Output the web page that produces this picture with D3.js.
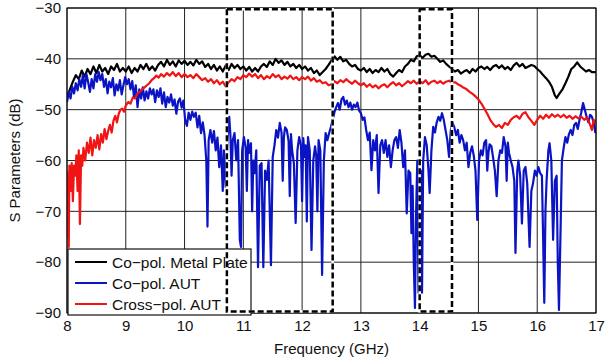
<!DOCTYPE html>
<html>
<head>
<meta charset="utf-8">
<script src="https://cdn.jsdelivr.net/npm/d3@7"></script>
<style>
  body { margin: 0; background: #fff; }
  svg { display: block; font-family: "Liberation Sans", Arial, sans-serif; }
</style>
</head>
<body>
<svg id="chart" width="606" height="364"></svg>
<script>
// axis ticks
const xTicks = [8, 9, 10, 11, 12, 13, 14, 15, 16, 17]
const yTicks = [-90, -80, -70, -60, -50, -40, -30]

// highlighted bands (GHz)
const bands = [[10.72, 12.52], [14.0, 14.55]]

// [frequency GHz, dB]
const coPolMetal = [
  [8.00,-47.5],[8.05,-46],[8.10,-44.5],[8.15,-43.2],[8.20,-44],[8.25,-42.3],[8.30,-43.5],[8.35,-42],[8.40,-43],[8.45,-41.5],
  [8.50,-42.8],[8.55,-41.2],[8.60,-42.5],[8.65,-41.8],[8.70,-43],[8.75,-41.5],[8.80,-42.2],[8.85,-41],[8.90,-42.5],[8.95,-41.8],
  [9.00,-42.5],[9.05,-41.5],[9.10,-42.8],[9.15,-41.8],[9.20,-42.5],[9.25,-41.2],[9.30,-42],[9.35,-41],[9.40,-42.2],[9.45,-41.5],
  [9.50,-42.3],[9.55,-41.2],[9.60,-40.6],[9.65,-41.5],[9.70,-40.2],[9.75,-41.2],[9.80,-40.5],[9.85,-41.5],[9.90,-40.3],[9.95,-41.0],
  [10.00,-40.4],[10.05,-41.2],[10.10,-40.6],[10.15,-41.3],[10.20,-40.2],[10.25,-41],[10.30,-40.5],[10.35,-41.6],[10.40,-41],[10.45,-42],
  [10.50,-41.2],[10.55,-42.3],[10.60,-41.5],[10.65,-42.5],[10.70,-41.3],[10.75,-42.2],[10.80,-41],[10.85,-41.8],[10.90,-41.2],[10.95,-42.0],
  [11.00,-41.5],[11.05,-42.3],[11.10,-41.6],[11.15,-42.5],[11.20,-41.8],[11.25,-42.5],[11.30,-41.5],[11.35,-41.0],[11.40,-41.6],[11.45,-40.5],
  [11.50,-41.2],[11.55,-40.0],[11.60,-40.8],[11.65,-40.3],[11.70,-41.2],[11.75,-40.6],[11.80,-41.5],[11.85,-41.0],[11.90,-41.8],[11.95,-41.2],
  [12.00,-42.0],[12.05,-41.5],[12.10,-42.3],[12.15,-41.8],[12.20,-42.8],[12.25,-42.3],[12.30,-43.2],[12.35,-42.6],[12.40,-42.0],[12.45,-41.2],
  [12.50,-40.3],[12.55,-39.5],[12.60,-40.2],[12.65,-39.6],[12.70,-40.5],[12.75,-40.2],[12.80,-41.0],[12.85,-41.5],[12.90,-41.2],[12.95,-42.0],
  [13.00,-42.3],[13.05,-41.8],[13.10,-42.6],[13.15,-42.0],[13.20,-42.8],[13.25,-42.2],[13.30,-42.6],[13.35,-41.8],[13.40,-42.5],[13.45,-42.0],
  [13.50,-43.0],[13.55,-43.5],[13.60,-42.8],[13.65,-42.2],[13.70,-42.6],[13.75,-41.5],[13.80,-41.0],[13.85,-40.2],[13.90,-40.5],[13.95,-39.5],
  [14.00,-39.3],[14.05,-39.8],[14.10,-39.2],[14.15,-39.0],[14.20,-39.6],[14.25,-39.4],[14.30,-40.0],[14.35,-40.6],[14.40,-40.3],[14.45,-41.0],
  [14.50,-41.5],[14.55,-42.0],[14.60,-42.5],[14.65,-42.2],[14.70,-42.9],[14.75,-42.5],[14.80,-42.2],[14.85,-42.8],[14.90,-42.0],[14.95,-42.5],
  [15.00,-41.8],[15.05,-41.5],[15.10,-42.0],[15.15,-41.6],[15.20,-42.2],[15.25,-41.5],[15.30,-41.2],[15.35,-41.8],[15.40,-41.3],[15.45,-42.0],
  [15.50,-41.6],[15.55,-42.2],[15.60,-41.3],[15.65,-40.8],[15.70,-41.5],[15.75,-41.0],[15.80,-41.8],[15.85,-41.5],[15.90,-41.2],[15.95,-41.4],
  [16.00,-42.0],[16.05,-42.5],[16.10,-43.2],[16.15,-43.8],[16.20,-44.5],[16.25,-45.5],[16.30,-47.2],[16.33,-47.7],[16.38,-46.8],[16.43,-46.0],
  [16.48,-44.8],[16.53,-43.5],[16.58,-42.0],[16.63,-41.5],[16.68,-40.7],[16.73,-41.5],[16.78,-42.0],[16.83,-42.5],[16.88,-42.2],[16.93,-42.6],
  [17.00,-42.6]
]

const coPolAUT = [
  [8.00,-48.5],[8.03,-46.5],[8.06,-47.8],[8.09,-45.5],[8.12,-46.8],[8.15,-44.8],[8.18,-46.2],[8.21,-44.0],[8.24,-45.5],[8.27,-43.2],
  [8.30,-45.8],[8.33,-43.0],[8.36,-44.6],[8.39,-46.5],[8.42,-44.0],[8.45,-45.8],[8.48,-43.0],[8.51,-44.5],[8.54,-42.6],[8.57,-44.2],
  [8.60,-43.0],[8.63,-45.5],[8.66,-44.0],[8.69,-46.8],[8.72,-44.5],[8.75,-45.6],[8.78,-43.8],[8.81,-47.2],[8.84,-45.0],[8.87,-46.2],
  [8.90,-44.2],[8.93,-47.0],[8.96,-45.2],[8.99,-43.6],[9.02,-45.0],[9.05,-44.0],[9.08,-46.0],[9.11,-44.4],[9.14,-47.5],[9.17,-45.2],
  [9.20,-49.5],[9.23,-46.0],[9.26,-47.8],[9.29,-45.6],[9.32,-48.2],[9.35,-46.4],[9.38,-47.8],[9.41,-45.8],[9.44,-47.0],[9.47,-46.0],
  [9.50,-48.5],[9.53,-46.2],[9.56,-47.5],[9.59,-45.8],[9.62,-48.8],[9.65,-46.6],[9.68,-49.5],[9.71,-47.5],[9.74,-48.6],[9.77,-47.0],
  [9.80,-49.2],[9.83,-48.0],[9.86,-50.8],[9.89,-48.4],[9.92,-47.8],[9.95,-49.6],[9.98,-48.2],[10.01,-52.0],[10.04,-53.2],[10.07,-50.6],
  [10.10,-52.0],[10.13,-50.4],[10.16,-51.4],[10.19,-50.6],[10.22,-53.5],[10.25,-51.2],[10.28,-54.6],[10.31,-52.5],[10.34,-55.0],[10.37,-60.0],
  [10.39,-73.0],[10.41,-56.0],[10.44,-54.0],[10.47,-56.5],[10.50,-54.2],[10.53,-58.0],[10.56,-55.5],[10.59,-61.3],[10.62,-57.0],[10.65,-66.0],
  [10.67,-58.0],[10.70,-65.2],[10.73,-56.0],[10.76,-51.4],[10.78,-55.0],[10.80,-63.0],[10.82,-56.0],[10.85,-54.6],[10.88,-60.0],[10.91,-56.0],[10.94,-75.6],
  [10.96,-77.0],[10.98,-58.0],[11.01,-55.4],[11.04,-57.5],[11.06,-66.0],[11.08,-56.0],[11.10,-58.5],[11.13,-56.6],[11.15,-70.0],[11.17,-60.0],[11.19,-62.5],[11.22,-58.0],
  [11.25,-81.0],[11.28,-61.0],[11.31,-60.5],[11.34,-81.0],[11.37,-62.0],[11.40,-63.8],[11.43,-60.0],[11.47,-80.6],[11.50,-59.3],[11.53,-57.0],
  [11.56,-54.0],[11.59,-55.5],[11.62,-52.6],[11.65,-54.5],[11.67,-64.0],[11.69,-55.4],[11.71,-53.5],[11.74,-54.0],[11.77,-56.2],[11.79,-67.0],[11.81,-54.8],[11.83,-58.0],
  [11.86,-60.5],[11.89,-72.3],[11.92,-58.0],[11.95,-55.4],[11.98,-57.0],[12.00,-68.0],[12.02,-55.6],[12.04,-59.3],[12.06,-57.0],[12.08,-72.0],[12.10,-55.4],[12.13,-58.0],
  [12.16,-77.6],[12.19,-60.0],[12.22,-57.2],[12.24,-59.0],[12.26,-70.0],[12.28,-56.0],[12.31,-58.0],[12.34,-82.5],[12.37,-60.0],[12.40,-54.6],[12.43,-56.0],
  [12.46,-54.6],[12.49,-53.4],[12.52,-52.0],[12.55,-50.5],[12.58,-49.5],[12.61,-48.7],[12.64,-50.0],[12.67,-48.0],[12.70,-47.5],[12.73,-49.0],
  [12.76,-48.2],[12.79,-49.5],[12.82,-48.6],[12.85,-50.0],[12.88,-49.0],[12.91,-49.5],[12.94,-48.6],[12.97,-50.2],[13.00,-50.7],[13.03,-52.0],
  [13.06,-51.5],[13.09,-54.0],[13.12,-56.0],[13.15,-54.5],[13.18,-61.9],[13.21,-56.0],[13.24,-58.0],[13.27,-55.0],[13.30,-66.4],[13.33,-57.0],
  [13.36,-56.0],[13.39,-58.5],[13.42,-56.0],[13.45,-59.3],[13.48,-57.0],[13.51,-61.3],[13.54,-58.0],[13.57,-56.0],[13.60,-55.4],[13.63,-57.5],
  [13.66,-54.0],[13.69,-56.5],[13.72,-61.3],[13.75,-58.0],[13.78,-70.4],[13.81,-62.0],[13.84,-62.5],[13.86,-74.3],[13.88,-65.0],[13.90,-80.0],
  [13.92,-89.0],[13.94,-70.0],[13.96,-60.0],[13.98,-86.0],[14.00,-75.0],[14.02,-62.0],[14.04,-86.0],[14.06,-60.0],[14.09,-55.4],[14.12,-57.0],
  [14.15,-62.0],[14.17,-66.4],[14.20,-58.0],[14.23,-53.4],[14.26,-54.5],[14.29,-52.5],[14.32,-51.4],[14.35,-52.2],[14.38,-50.7],[14.41,-52.0],
  [14.44,-54.0],[14.47,-56.0],[14.50,-59.3],[14.53,-54.0],[14.56,-52.6],[14.59,-53.5],[14.62,-55.0],[14.65,-54.0],[14.68,-56.5],[14.71,-55.0],
  [14.74,-56.0],[14.77,-58.0],[14.80,-56.5],[14.83,-61.3],[14.86,-58.5],[14.89,-57.2],[14.92,-59.0],[14.95,-62.0],[14.98,-71.7],[15.01,-60.0],
  [15.04,-58.0],[15.07,-59.0],[15.10,-56.5],[15.13,-56.0],[15.15,-62.0],[15.17,-58.5],[15.19,-56.8],[15.22,-57.2],[15.25,-59.5],[15.28,-62.0],[15.31,-67.0],
  [15.34,-60.0],[15.37,-58.0],[15.40,-58.5],[15.43,-55.4],[15.46,-57.2],[15.48,-64.0],[15.50,-56.5],[15.52,-58.5],[15.55,-60.0],[15.58,-61.3],[15.61,-64.0],
  [15.63,-78.2],[15.66,-62.0],[15.68,-60.0],[15.71,-63.0],[15.74,-72.4],[15.77,-62.0],[15.80,-61.3],[15.83,-64.5],[15.87,-77.0],[15.90,-66.0],
  [15.93,-64.4],[15.96,-62.0],[15.99,-63.0],[16.02,-61.3],[16.05,-62.5],[16.08,-63.0],[16.10,-75.0],[16.12,-88.0],[16.14,-70.0],[16.16,-63.8],
  [16.19,-58.0],[16.21,-56.6],[16.24,-60.0],[16.27,-75.6],[16.30,-64.0],[16.33,-63.0],[16.35,-80.0],[16.37,-89.4],[16.40,-72.0],[16.42,-60.0],
  [16.45,-57.5],[16.48,-55.4],[16.51,-56.5],[16.54,-54.8],[16.57,-54.0],[16.60,-55.0],[16.63,-53.0],[16.66,-52.6],[16.69,-53.8],[16.72,-52.0],
  [16.75,-50.5],[16.78,-48.7],[16.81,-50.0],[16.84,-51.4],[16.87,-52.5],[16.90,-51.0],[16.93,-51.4],[16.96,-52.5],[16.99,-54.6]
]

const crossPolAUT = [
  [8.00,-62],[8.01,-75],[8.02,-64],[8.03,-77],[8.04,-61],[8.06,-66],[8.08,-60.5],[8.10,-68],[8.12,-61],[8.14,-63],
  [8.16,-59],[8.18,-66],[8.20,-58],[8.22,-72.5],[8.24,-59],[8.26,-61],[8.28,-57.5],[8.31,-60],[8.34,-56.5],[8.37,-58.5],
  [8.40,-55.5],[8.43,-59],[8.46,-56],[8.49,-57.5],[8.52,-55],[8.55,-57.8],[8.58,-54.8],[8.61,-56.5],[8.64,-53.8],[8.67,-55.8],
  [8.70,-54.2],[8.73,-53],[8.76,-54.5],[8.79,-52.2],[8.82,-51.2],[8.85,-52.5],[8.88,-50.8],[8.91,-50],[8.94,-49.8],[8.97,-50.4],
  [9.00,-49.2],[9.04,-48.5],[9.08,-48.8],[9.12,-47.6],[9.16,-47.8],[9.20,-46.8],[9.24,-46.5],[9.28,-46.0],[9.32,-45.6],[9.36,-45.2],
  [9.40,-44.8],[9.44,-44.2],[9.48,-43.8],[9.52,-43.3],[9.56,-43.7],[9.60,-43.0],[9.65,-43.5],[9.70,-42.8],[9.75,-43.3],[9.80,-42.6],
  [9.85,-43.4],[9.90,-42.8],[9.95,-43.6],[10.00,-43.0],[10.05,-43.6],[10.10,-43.2],[10.15,-43.8],[10.20,-43.0],[10.25,-43.6],[10.30,-44.2],
  [10.35,-43.8],[10.40,-44.5],[10.45,-44.0],[10.50,-44.8],[10.55,-44.2],[10.60,-45.0],[10.65,-44.5],[10.70,-45.4],[10.75,-44.6],[10.80,-44.0],
  [10.85,-44.4],[10.90,-43.6],[10.95,-44.0],[11.00,-43.2],[11.05,-43.6],[11.10,-42.9],[11.15,-43.5],[11.20,-43.0],[11.25,-43.8],[11.30,-43.2],
  [11.35,-44.0],[11.40,-43.4],[11.45,-43.8],[11.50,-43.0],[11.55,-43.6],[11.60,-43.2],[11.65,-44.0],[11.70,-43.5],[11.75,-43.9],[11.80,-43.3],
  [11.85,-44.0],[11.90,-43.6],[11.95,-44.2],[12.00,-43.6],[12.05,-44.0],[12.10,-43.5],[12.15,-44.3],[12.20,-43.8],[12.25,-44.5],[12.30,-44.2],
  [12.35,-44.8],[12.40,-44.6],[12.45,-45.2],[12.50,-45.0],[12.55,-44.4],[12.60,-44.8],[12.65,-44.2],[12.70,-44.6],[12.75,-44.0],[12.80,-44.5],
  [12.85,-44.9],[12.90,-44.3],[12.95,-44.8],[13.00,-45.2],[13.05,-44.8],[13.10,-45.5],[13.15,-45.0],[13.20,-45.6],[13.25,-45.2],[13.30,-45.8],
  [13.35,-45.3],[13.40,-45.0],[13.45,-45.6],[13.50,-45.0],[13.55,-44.6],[13.60,-45.2],[13.65,-44.8],[13.70,-45.4],[13.75,-44.9],[13.80,-44.4],
  [13.85,-44.8],[13.90,-44.3],[13.95,-44.9],[14.00,-44.4],[14.05,-44.8],[14.10,-44.2],[14.15,-45.0],[14.20,-44.5],[14.25,-44.3],[14.30,-44.8],
  [14.35,-44.4],[14.40,-44.9],[14.45,-44.5],[14.50,-44.3],[14.55,-44.7],[14.60,-44.6],[14.65,-45.0],[14.70,-45.3],[14.75,-45.7],[14.80,-46.0],
  [14.85,-46.5],[14.90,-46.9],[14.95,-47.4],[15.00,-48.0],[15.05,-48.8],[15.10,-49.8],[15.15,-50.8],[15.20,-52.0],[15.25,-52.8],[15.30,-53.4],
  [15.35,-53.0],[15.40,-53.6],[15.45,-52.6],[15.50,-53.0],[15.55,-52.0],[15.60,-51.5],[15.65,-51.2],[15.70,-51.8],[15.75,-50.8],[15.80,-50.5],
  [15.85,-51.5],[15.90,-52.2],[15.95,-53.0],[16.00,-52.0],[16.05,-51.2],[16.10,-51.8],[16.15,-51.0],[16.20,-51.6],[16.25,-50.9],[16.30,-51.4],
  [16.35,-51.0],[16.40,-51.5],[16.45,-51.0],[16.50,-51.6],[16.55,-51.2],[16.60,-51.8],[16.65,-51.3],[16.70,-51.7],[16.75,-51.4],[16.80,-52.0],
  [16.85,-51.5],[16.90,-53.0],[16.93,-54.0],[16.96,-52.0],[17.00,-52.5]
]

const seriesNames = ["Co\u2212pol. Metal Plate", "Co\u2212pol. AUT", "Cross\u2212pol. AUT"]
const seriesColors = ["#000000", "#0a14c4", "#f01414"]

const margin = { top: 8, right: 10, bottom: 51, left: 67 }
const width = 606 - margin.left - margin.right
const height = 364 - margin.top - margin.bottom

const svg = d3.select("#chart")
const g = svg.append("g").attr("transform", "translate(" + margin.left + "," + margin.top + ")")

const x = d3.scaleLinear().domain([8, 17]).range([0, width])
const y = d3.scaleLinear().domain([-90, -30]).range([height, 0])

svg.append("defs").append("clipPath").attr("id", "clip")
  .append("rect").attr("width", width).attr("height", height)

// grid
g.append("g").selectAll("line").data(xTicks).join("line")
  .attr("x1", d => x(d)).attr("x2", d => x(d))
  .attr("y1", 0).attr("y2", height)
  .attr("stroke", "#222").attr("stroke-width", 1)
g.append("g").selectAll("line").data(yTicks).join("line")
  .attr("x1", 0).attr("x2", width)
  .attr("y1", d => y(d)).attr("y2", d => y(d))
  .attr("stroke", "#222").attr("stroke-width", 1)

// axes
const fmt = d => d < 0 ? "\u2212" + Math.abs(d) : d
const xAxis = g.append("g").attr("transform", "translate(0," + height + ")")
  .call(d3.axisBottom(x).tickValues(xTicks).tickFormat(fmt).tickSize(0).tickPadding(7))
const yAxis = g.append("g")
  .call(d3.axisLeft(y).tickValues(yTicks).tickFormat(fmt).tickSize(0).tickPadding(6))
;[xAxis, yAxis].forEach(a => {
  a.select(".domain").remove()
  a.selectAll("text").attr("font-size", 15).attr("fill", "#111")
    .style("font-family", "'Liberation Sans', Arial, sans-serif")
})

// series
const line = d3.line().x(d => x(d[0])).y(d => y(d[1]))
const lines = g.append("g").attr("clip-path", "url(#clip)")
;[coPolMetal, coPolAUT, crossPolAUT].forEach((s, i) => {
  lines.append("path").datum(s)
    .attr("d", line)
    .attr("fill", "none")
    .attr("stroke", seriesColors[i])
    .attr("stroke-width", 2.2)
    .attr("stroke-linejoin", "round")
})

// frame
g.append("rect").attr("width", width).attr("height", height)
  .attr("fill", "none").attr("stroke", "#000").attr("stroke-width", 1)

// legend
const leg = g.append("g").attr("transform", "translate(1," + (height - 64) + ")")
leg.append("rect").attr("width", 183).attr("height", 66)
  .attr("fill", "#fff").attr("stroke", "#111").attr("stroke-width", 1.2)
seriesNames.forEach((name, i) => {
  const yy = 13 + i * 21
  leg.append("line").attr("x1", 7).attr("x2", 39).attr("y1", yy).attr("y2", yy)
    .attr("stroke", seriesColors[i]).attr("stroke-width", 2)
  leg.append("text").attr("x", 44).attr("y", yy + 5.5)
    .attr("font-size", 15.5).attr("fill", "#111").text(name)
})

// dashed bands
bands.forEach(b => {
  const r = { x: x(b[0]), y: y(-30.25), w: x(b[1]) - x(b[0]), h: y(-89.7) - y(-30.25) }
  g.append("rect").attr("x", r.x).attr("y", r.y).attr("width", r.w).attr("height", r.h)
    .attr("fill", "none").attr("stroke", "#fff").attr("stroke-width", 2.5)
  g.append("rect").attr("x", r.x).attr("y", r.y).attr("width", r.w).attr("height", r.h)
    .attr("fill", "none").attr("stroke", "#000").attr("stroke-width", 2.5)
    .attr("stroke-dasharray", "6,3")
})

// axis titles
g.append("text").attr("x", width / 2).attr("y", height + 41)
  .attr("text-anchor", "middle").attr("font-size", 15).attr("fill", "#111")
  .text("Frequency (GHz)")
g.append("text").attr("transform", "translate(-47," + (height / 2) + ") rotate(-90)")
  .attr("text-anchor", "middle").attr("font-size", 15).attr("fill", "#111")
  .text("S Parameters (dB)")
</script>
</body>
</html>
